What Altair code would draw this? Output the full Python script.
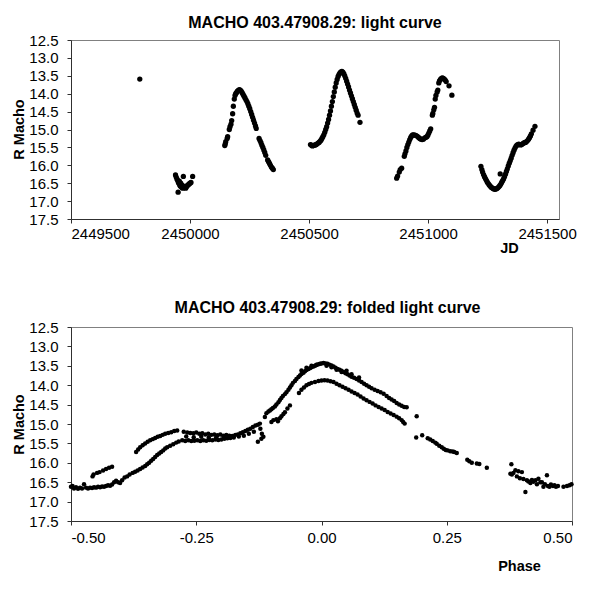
import altair as alt
import pandas as pd

# ---- Light curve (JD, R Macho) ----
top_jd = [
    2449789,
    2449939, 2449942, 2449945, 2449948, 2449950, 2449951, 2449953, 2449955, 2449957, 2449959,
    2449961, 2449963, 2449965, 2449966, 2449968, 2449970, 2449972, 2449973, 2449976, 2449979,
    2449982, 2449985, 2449988, 2449992, 2449996, 2450000, 2450004, 2450011,
    2450146, 2450148, 2450150, 2450156, 2450158, 2450165, 2450168, 2450172, 2450175, 2450179,
    2450182, 2450186, 2450189, 2450192, 2450195, 2450199, 2450203, 2450207, 2450211, 2450215,
    2450219, 2450223, 2450227, 2450231, 2450235, 2450239, 2450243, 2450247, 2450251, 2450255,
    2450259, 2450263, 2450267, 2450271, 2450275, 2450278, 2450290, 2450294, 2450298, 2450302,
    2450306, 2450310, 2450314, 2450318, 2450326, 2450330, 2450334, 2450338, 2450342, 2450346,
    2450350,
    2450506, 2450510, 2450514, 2450518, 2450522, 2450526, 2450530, 2450534, 2450538, 2450542,
    2450546, 2450550, 2450554, 2450558, 2450562, 2450566, 2450570, 2450574, 2450578, 2450582,
    2450586, 2450590, 2450594, 2450598, 2450602, 2450606, 2450610, 2450614, 2450618, 2450622,
    2450626, 2450630, 2450634, 2450638, 2450642, 2450646, 2450650, 2450654, 2450658, 2450662,
    2450666, 2450670, 2450674, 2450678, 2450682, 2450686, 2450690, 2450694, 2450698, 2450702,
    2450706, 2450714,
    2450868, 2450872, 2450879, 2450883, 2450889, 2450900, 2450903, 2450907, 2450911, 2450915,
    2450919, 2450923, 2450927, 2450931, 2450935, 2450940, 2450945, 2450950, 2450955, 2450960,
    2450965, 2450970, 2450975, 2450980, 2450985, 2450990, 2450995, 2450999, 2451003, 2451007,
    2451011, 2451018, 2451020, 2451024, 2451027, 2451030, 2451033, 2451038, 2451041, 2451045,
    2451048, 2451052, 2451056, 2451060, 2451064, 2451068, 2451072, 2451076, 2451088, 2451100,
    2451222, 2451226, 2451229, 2451233, 2451237, 2451241, 2451245, 2451249, 2451253, 2451257,
    2451261, 2451265, 2451269, 2451273, 2451277, 2451281, 2451285, 2451289, 2451293, 2451297,
    2451301, 2451303, 2451305, 2451309, 2451313, 2451317, 2451321, 2451325, 2451329, 2451333,
    2451337, 2451341, 2451345, 2451349, 2451353, 2451357, 2451361, 2451365, 2451369, 2451373,
    2451377, 2451381, 2451385, 2451389, 2451393, 2451397, 2451401, 2451405, 2451409, 2451413,
    2451418, 2451422, 2451426, 2451430, 2451434, 2451441, 2451449,
]
top_mag = [
    13.59,
    16.27, 16.33, 16.38, 16.42, 16.75, 16.47, 16.50, 16.44, 16.55, 16.58,
    16.50, 16.60, 16.55, 16.62, 16.60, 16.64, 16.31, 16.58, 16.62, 16.60,
    16.64, 16.60, 16.57, 16.55, 16.52, 16.50, 16.48, 16.31,
    15.45, 15.40, 15.34, 15.25, 15.20, 15.00, 14.92, 14.85, 14.75, 14.56,
    14.35, 14.15, 14.05, 14.00, 13.97, 13.93, 13.91, 13.89, 13.90, 13.93,
    13.97, 14.02, 14.07, 14.12, 14.17, 14.22, 14.28, 14.35, 14.42, 14.50,
    14.58, 14.66, 14.74, 14.82, 14.90, 14.97, 15.25, 15.31, 15.37, 15.44,
    15.50, 15.57, 15.64, 15.72, 15.85, 15.90, 15.95, 16.00, 16.05, 16.08,
    16.12,
    15.42, 15.44, 15.46, 15.45, 15.44, 15.43, 15.42, 15.40, 15.38, 15.36,
    15.33, 15.30, 15.25, 15.20, 15.15, 15.08, 15.00, 14.92, 14.82, 14.72,
    14.60, 14.48, 14.35, 14.22, 14.08, 13.95, 13.82, 13.70, 13.60, 13.52,
    13.46, 13.42, 13.39, 13.38, 13.40, 13.44, 13.50, 13.57, 13.65, 13.73,
    13.81, 13.90, 13.98, 14.06, 14.14, 14.22, 14.30, 14.38, 14.46, 14.54,
    14.60, 14.80,
    16.36, 16.30, 16.19, 16.12, 16.08, 15.75, 15.68, 15.60, 15.50, 15.42,
    15.35, 15.28, 15.22, 15.18, 15.15, 15.15, 15.16, 15.17, 15.19, 15.22,
    15.25, 15.27, 15.28, 15.27, 15.24, 15.22, 15.20, 15.16, 15.10, 15.04,
    14.98, 14.60, 14.55, 14.45, 14.38, 14.15, 14.05, 13.95, 13.90, 13.70,
    13.64, 13.60, 13.57, 13.56, 13.57, 13.59, 13.62, 13.66, 13.78, 14.04,
    16.03, 16.12, 16.19, 16.26, 16.32, 16.37, 16.42, 16.47, 16.51, 16.55,
    16.58, 16.61, 16.63, 16.65, 16.66, 16.67, 16.66, 16.65, 16.63, 16.60,
    16.57, 16.24, 16.53, 16.48, 16.43, 16.38, 16.32, 16.25, 16.17, 16.10,
    16.02, 15.94, 15.87, 15.80, 15.72, 15.65, 15.58, 15.52, 15.47, 15.44,
    15.42, 15.41, 15.42, 15.43, 15.42, 15.40, 15.38, 15.37, 15.36, 15.34,
    15.31, 15.27, 15.23, 15.18, 15.12, 15.02, 14.91,
]

# ---- Folded light curve (phase, R Macho) ----
fold_phase = [
    -0.500, -0.497, -0.494, -0.490, -0.486, -0.482, -0.478, -0.474, -0.470, -0.466,
    -0.462, -0.458, -0.454, -0.450, -0.446, -0.442, -0.438, -0.434, -0.430, -0.426,
    -0.422, -0.418, -0.414, -0.410, -0.406, -0.402, -0.398, -0.393, -0.388, -0.383,
    -0.377, -0.372, -0.367, -0.362, -0.357, -0.352, -0.348, -0.344, -0.340, -0.336,
    -0.332, -0.328, -0.324, -0.320, -0.316, -0.312, -0.308, -0.302, -0.296, -0.290,
    -0.285,
    -0.457, -0.455, -0.448, -0.443, -0.436, -0.430, -0.424, -0.418,
    -0.370, -0.366, -0.362, -0.357, -0.352, -0.347, -0.342, -0.337, -0.332, -0.327,
    -0.322, -0.317, -0.312, -0.306, -0.300, -0.294, -0.288,
    -0.275, -0.268, -0.262, -0.256, -0.250, -0.244, -0.238, -0.232, -0.226, -0.220,
    -0.214, -0.208, -0.202, -0.196, -0.190, -0.184,
    -0.278, -0.272, -0.266, -0.260, -0.254, -0.248, -0.242, -0.236, -0.230, -0.224,
    -0.218, -0.212, -0.206, -0.200, -0.194, -0.188, -0.182,
    -0.270, -0.255, -0.240, -0.225, -0.210, -0.195, -0.180,
    -0.178, -0.172, -0.167, -0.162, -0.157, -0.152, -0.147, -0.142, -0.137, -0.132,
    -0.127, -0.123, -0.175, -0.165, -0.155, -0.145, -0.135, -0.127, -0.120, -0.119,
    -0.116, -0.122,
    -0.113, -0.110, -0.106, -0.103, -0.100, -0.097, -0.093, -0.090, -0.086, -0.083,
    -0.080, -0.077, -0.073, -0.070, -0.066, -0.063, -0.060, -0.057, -0.053, -0.050,
    -0.046, -0.043, -0.040, -0.036, -0.033, -0.030, -0.026, -0.023, -0.020, -0.016,
    -0.013, -0.010, -0.006, -0.003, 0.000, 0.004, 0.008, 0.012, 0.016, 0.020,
    0.024, 0.028, 0.032, 0.036, 0.040, 0.044, 0.048, 0.052, 0.056, 0.060,
    0.065, 0.070, 0.075, 0.080, 0.085, 0.090, 0.095, 0.100, 0.106, 0.112,
    0.118, 0.124, 0.130, 0.135, 0.140, 0.145, 0.150, 0.155, 0.160, 0.165,
    0.170,
    -0.040, -0.030, -0.020, -0.010, 0.010, 0.020, 0.030, 0.040, 0.050, 0.060,
    0.075,
    -0.100, -0.096, -0.090, -0.087, -0.083, -0.080, -0.076, -0.073, -0.068, -0.063,
    -0.045, -0.040, -0.035, -0.030, -0.025, -0.020, -0.013, -0.006, 0.000, 0.006,
    0.012, 0.018, 0.024, 0.030, 0.036, 0.042, 0.048, 0.054, 0.060, 0.066,
    0.072, 0.078, 0.084, 0.090, 0.096, 0.102, 0.108, 0.114, 0.120, 0.126,
    0.132, 0.138, 0.144, 0.150, 0.155, 0.160, 0.163, 0.166,
    0.190, 0.189, 0.201, 0.212, 0.217, 0.222, 0.227, 0.230, 0.235, 0.240,
    0.244, 0.248, 0.252, 0.257, 0.262, 0.265, 0.270, 0.291, 0.295, 0.300,
    0.310, 0.315, 0.330, 0.379, 0.377, 0.380, 0.383, 0.387, 0.390, 0.393,
    0.396, 0.400, 0.403, 0.407, 0.410, 0.413, 0.417, 0.420, 0.423, 0.427,
    0.430, 0.433, 0.437, 0.440, 0.443, 0.446, 0.450, 0.452, 0.455, 0.458,
    0.462, 0.465, 0.468, 0.472, 0.483, 0.490, 0.495, 0.499,
]
fold_mag = [
    16.62, 16.60, 16.66, 16.63, 16.67, 16.64, 16.66, 16.55, 16.64, 16.66,
    16.64, 16.65, 16.63, 16.64, 16.62, 16.63, 16.61, 16.62, 16.60, 16.58,
    16.59, 16.56, 16.50, 16.46, 16.50, 16.52, 16.45, 16.38, 16.35, 16.30,
    16.26, 16.23, 16.20, 16.16, 16.12, 16.08, 16.04, 16.00, 15.95, 15.90,
    15.85, 15.80, 15.76, 15.72, 15.68, 15.63, 15.60, 15.56, 15.52, 15.48,
    15.45,
    16.35, 16.30, 16.26, 16.24, 16.20, 16.16, 16.13, 16.10,
    15.72, 15.66, 15.60, 15.55, 15.50, 15.46, 15.42, 15.39, 15.36, 15.33,
    15.31, 15.28, 15.25, 15.23, 15.21, 15.18, 15.17,
    15.20, 15.22, 15.23, 15.24, 15.22, 15.25, 15.24, 15.27, 15.25, 15.28,
    15.27, 15.29, 15.27, 15.30, 15.28, 15.30,
    15.42, 15.44, 15.42, 15.44, 15.43, 15.42, 15.44, 15.42, 15.43, 15.41,
    15.42, 15.40, 15.41, 15.40, 15.38, 15.37, 15.36,
    15.32, 15.34, 15.33, 15.35, 15.34, 15.33, 15.33,
    15.31, 15.28, 15.27, 15.24, 15.21, 15.18, 15.15, 15.12, 15.08, 15.04,
    15.02, 14.99, 15.35, 15.32, 15.30, 15.25, 15.20, 15.46, 15.38, 15.25,
    15.33, 15.12,
    14.82, 14.72, 14.68, 14.65, 14.62, 14.59, 14.55, 14.50, 14.44, 14.38,
    14.33, 14.28, 14.23, 14.18, 14.12, 14.06, 14.00, 13.94, 13.89, 13.84,
    13.79, 13.75, 13.71, 13.68, 13.64, 13.61, 13.58, 13.56, 13.54, 13.52,
    13.50, 13.48, 13.46, 13.45, 13.44, 13.43, 13.44, 13.45, 13.47, 13.49,
    13.52, 13.55, 13.58, 13.60, 13.63, 13.66, 13.69, 13.72, 13.75, 13.78,
    13.81, 13.84, 13.88, 13.92, 13.96, 14.00, 14.04, 14.08, 14.12, 14.15,
    14.18, 14.22, 14.28, 14.33, 14.37, 14.41, 14.46, 14.50, 14.53, 14.56,
    14.57,
    13.62, 13.55, 13.50, 13.47, 13.50, 13.54, 13.60, 13.66, 13.63, 13.72,
    13.80,
    14.95, 14.90, 14.88, 14.93, 14.85, 14.80, 14.74, 14.70, 14.60, 14.52,
    14.20, 14.12, 14.06, 14.00, 13.97, 13.94, 13.92, 13.89, 13.88, 13.87,
    13.88, 13.90, 13.92, 13.96, 14.00, 14.04, 14.08, 14.12, 14.16, 14.20,
    14.24, 14.29, 14.34, 14.39, 14.43, 14.47, 14.52, 14.56, 14.60, 14.64,
    14.69, 14.73, 14.77, 14.81, 14.85, 14.90, 14.95, 14.99,
    14.80, 15.35, 15.29, 15.37, 15.40, 15.44, 15.48, 15.51, 15.56, 15.60,
    15.64, 15.67, 15.68, 15.70, 15.71, 15.72, 15.75, 15.92, 15.96, 16.00,
    16.02, 16.03, 16.13, 16.04, 16.28, 16.30, 16.26, 16.19, 16.35, 16.22,
    16.40, 16.24, 16.42, 16.75, 16.45, 16.48, 16.52, 16.44, 16.49, 16.45,
    16.55, 16.41, 16.50, 16.50, 16.62, 16.55, 16.32, 16.60, 16.62, 16.56,
    16.60, 16.58, 16.62, 16.60, 16.62, 16.60, 16.58, 16.55,
]

mag_ticks = [12.5, 13.0, 13.5, 14.0, 14.5, 15.0, 15.5, 16.0, 16.5, 17.0, 17.5]
jd_ticks = [2449500, 2450000, 2450500, 2451000, 2451500]
phase_ticks = [-0.5, -0.25, 0.0, 0.25, 0.5]

top_df = pd.DataFrame({"JD": top_jd, "mag": top_mag})
fold_df = pd.DataFrame({"phase": fold_phase, "mag": fold_mag})

FONT = "Liberation Sans"

y_top = alt.Y(
    "mag:Q",
    scale=alt.Scale(domain=[12.5, 17.5], reverse=True, nice=False, zero=False),
    axis=alt.Axis(values=mag_ticks, format=".1f", title="R Macho",
                  titleX=-52, titleY=89, titleAngle=270, titleBaseline="middle",
                  titleAlign="center"),
)
y_bot = alt.Y(
    "mag:Q",
    scale=alt.Scale(domain=[12.5, 17.5], reverse=True, nice=False, zero=False),
    axis=alt.Axis(values=mag_ticks, format=".1f", title="R Macho",
                  titleX=-52, titleY=97, titleAngle=270, titleBaseline="middle",
                  titleAlign="center"),
)

top = alt.Chart(top_df).mark_circle(size=28, color="black", opacity=1).encode(
    x=alt.X("JD:Q",
            scale=alt.Scale(domain=[2449500, 2451550], nice=False, zero=False),
            axis=alt.Axis(values=jd_ticks, format="d", title="JD", labelPadding=3,
                          titleX=438, titleY=29, titleBaseline="middle",
                          titleAlign="center")),
    y=y_top,
).properties(
    width=488, height=179,
    title=alt.TitleParams("MACHO 403.47908.29: light curve", fontSize=16,
                          fontWeight="bold", font=FONT, offset=2),
)

bottom = alt.Chart(fold_df).mark_circle(size=20, color="black", opacity=1).encode(
    x=alt.X("phase:Q",
            scale=alt.Scale(domain=[-0.5, 0.5], nice=False, zero=False),
            axis=alt.Axis(values=phase_ticks, format=".2f", title="Phase", labelPadding=5,
                          labelExpr="replace(datum.label, '\u2212', '-')",
                          titleX=448, titleY=45, titleBaseline="middle",
                          titleAlign="center")),
    y=y_bot,
).properties(
    width=501, height=194,
    title=alt.TitleParams("MACHO 403.47908.29: folded light curve", fontSize=16,
                          fontWeight="bold", font=FONT, offset=4, dx=6),
)

chart = alt.vconcat(top, bottom, spacing=44).properties(
    padding={"left": 2, "top": 6, "right": 5, "bottom": 5},
    background="white",
).configure(
    font=FONT,
).configure_view(
    stroke="#808080", strokeWidth=1,
).configure_axis(
    grid=False,
    domainColor="#303030", tickColor="#303030", tickSize=4,
    labelFont=FONT, labelFontSize=15, labelColor="#000000",
    titleFont=FONT, titleFontSize=14.5, titleFontWeight="bold", titleColor="#000000",
).configure_axisY(
    labelPadding=9,
)

chart.save("out.html", embed_options={"renderer": "svg", "actions": False})
